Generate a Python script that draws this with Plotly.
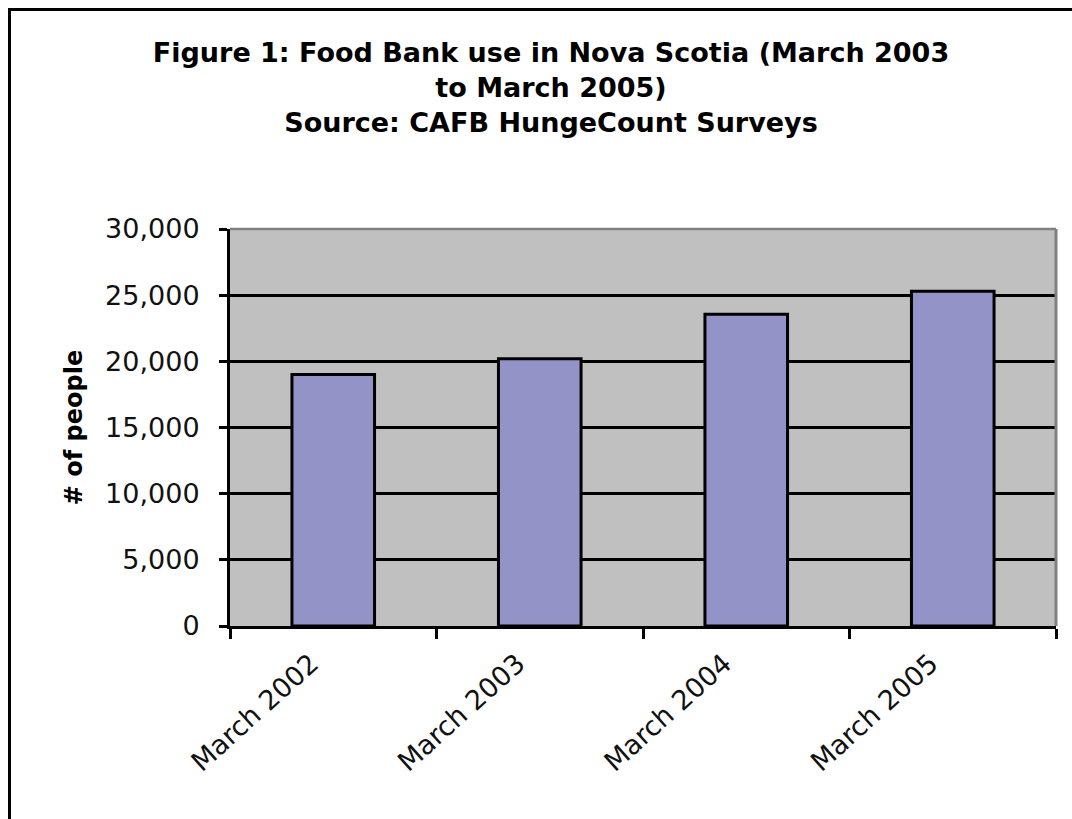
import plotly.graph_objects as go

categories = ["March 2002", "March 2003", "March 2004", "March 2005"]
people = [19000, 20200, 23550, 25300]
y_tickvals = [0, 5000, 10000, 15000, 20000, 25000, 30000]
y_ticktext = ["0", "5,000", "10,000", "15,000", "20,000", "25,000", "30,000"]

W, H = 1072, 819
L, R, T, B = 230, 16, 229, 193
pw, ph = W - L - R, H - T - B

FONT = "DejaVu Sans"

fig = go.Figure()
fig.add_trace(go.Bar(
    x=categories, y=people, width=0.4,
    marker=dict(color="#9393C8", line=dict(color="black", width=3)),
))

fig.update_layout(
    width=W, height=H,
    margin=dict(l=L, r=R, t=T, b=B, autoexpand=False),
    paper_bgcolor="white", plot_bgcolor="#C0C0C0",
    showlegend=False,
    font=dict(family=FONT, color="black", size=27),
    title=dict(
        text="<b>Figure 1: Food Bank use in Nova Scotia (March 2003<br>to March 2005)<br>Source: CAFB HungeCount Surveys</b>",
        x=551 / W, xanchor="center", xref="container",
        y=1 - 62 / H, yanchor="middle", yref="container",
        font=dict(family=FONT, size=27, color="black"),
    ),
    xaxis=dict(
        type="category", tickson="boundaries", ticks="outside", ticklen=10,
        tickwidth=3, tickcolor="black", showline=True, linecolor="black",
        linewidth=3, tickangle=-42, showgrid=False, automargin=False,
        ticklabelshift=-22, ticklabelstandoff=8,
        tickfont=dict(family=FONT, size=27, color="#111111"),
    ),
    yaxis=dict(
        range=[0, 30000], tickvals=y_tickvals, ticktext=y_ticktext,
        ticks="outside", ticklen=8, tickwidth=3, tickcolor="black",
        showline=True, linecolor="black", linewidth=3,
        showgrid=True, gridcolor="black", gridwidth=2.5, zeroline=False,
        automargin=False, ticklabelstandoff=14,
        tickfont=dict(family=FONT, size=27, color="#111111"),
        title=dict(text="<b># of people</b>", standoff=16,
                   font=dict(family=FONT, size=24, color="black")),
    ),
    shapes=[
        # outer chart frame (cropped on right and bottom)
        dict(type="rect", xref="paper", yref="paper",
             x0=(9.5 - L) / pw, x1=(W + 20 - L) / pw,
             y0=-(H + 20 - T - ph) / ph, y1=1 + (T - 9.5) / ph,
             line=dict(color="black", width=3), fillcolor="rgba(0,0,0,0)"),
        # plot area top and right borders (gray)
        dict(type="line", xref="paper", yref="paper", x0=0, x1=1, y0=1, y1=1,
             line=dict(color="#808080", width=2.5)),
        dict(type="line", xref="paper", yref="paper", x0=1, x1=1, y0=0, y1=1,
             line=dict(color="#808080", width=3)),
    ],
)

fig.write_html("out.html")
